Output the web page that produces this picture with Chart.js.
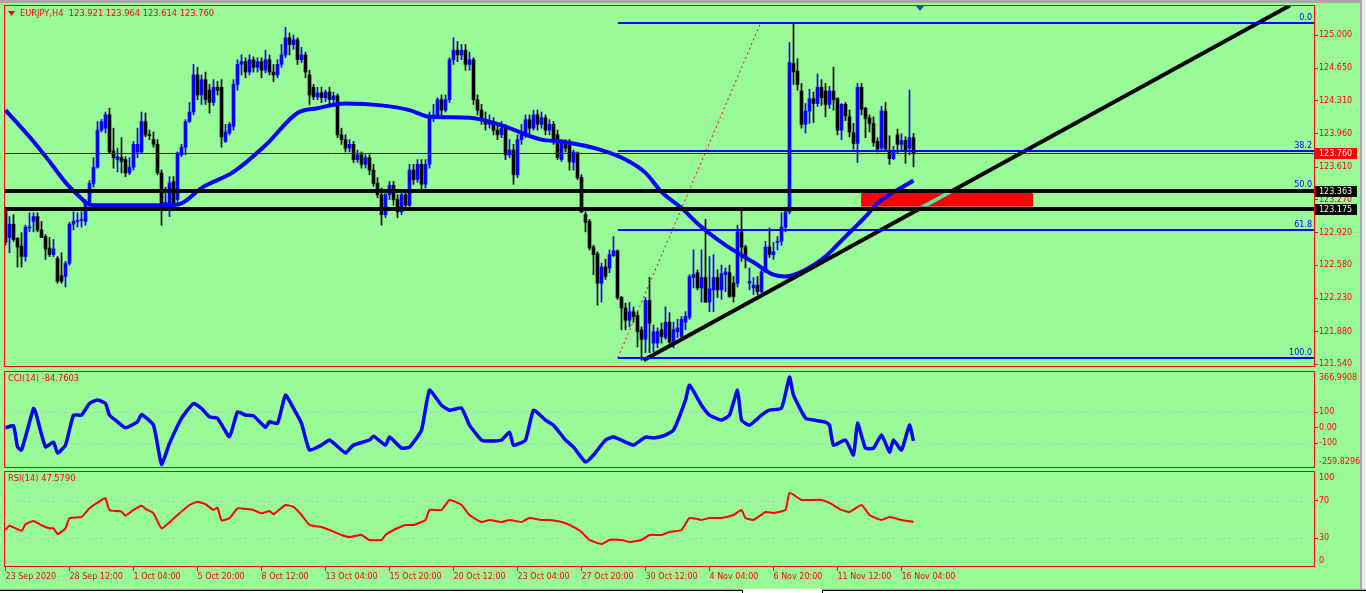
<!DOCTYPE html>
<html><head><meta charset="utf-8">
<script src="https://cdn.jsdelivr.net/npm/chart.js@4.4.0/dist/chart.umd.min.js"></script>
<style>
html,body{margin:0;padding:0;width:1366px;height:593px;overflow:hidden;background:#98fb98;}
canvas{position:absolute;left:0;}
#cA{top:0}#cB{top:369px}#cC{top:469px}
.d{position:absolute;}
</style></head><body>
<canvas id="cA" width="1366" height="369"></canvas>
<canvas id="cB" width="1366" height="100"></canvas>
<canvas id="cC" width="1366" height="124"></canvas>
<div class="d" style="left:0;top:0;width:1366px;height:3px;background:#a8a8a8"></div>
<div class="d" style="left:1360px;top:0;width:2px;height:593px;background:#a8a8a8"></div>
<div class="d" style="left:1362px;top:0;width:4px;height:593px;background:#ececec"></div>
<div class="d" style="left:0;top:589px;width:1366px;height:4px;background:#ffffff"></div>
<div class="d" style="left:0;top:589px;width:742px;height:1px;background:#a0a0a0"></div>
<div class="d" style="left:0;top:590px;width:742px;height:1px;background:#000"></div>
<div class="d" style="left:742px;top:590px;width:1px;height:3px;background:#000"></div>
<div class="d" style="left:822px;top:589px;width:544px;height:1px;background:#a0a0a0"></div>
<div class="d" style="left:822px;top:590px;width:544px;height:1px;background:#000"></div>
<div class="d" style="left:822px;top:590px;width:1px;height:3px;background:#000"></div>
<script>
// ---------------- DATA ----------------
const symbolTitle = 'EURJPY,H4';
const lastOHLC = ['123.921', '123.964', '123.614', '123.760'];

const candleOpen = [
123.14,122.87,123.01,122.86,122.78,122.67,122.97,123.04,123.09,122.95,
122.88,122.76,122.69,122.65,122.47,122.46,122.60,123.01,123.04,123.05,
123.04,123.24,123.44,123.61,124.00,124.02,124.16,123.78,123.69,123.71,
123.69,123.55,123.61,123.77,123.77,124.09,123.95,123.90,123.85,123.55,
123.21,123.21,123.46,123.27,123.74,123.82,124.09,124.19,124.58,124.37,
124.53,124.42,124.29,124.45,124.45,123.88,123.97,124.04,124.48,124.69,
124.72,124.61,124.74,124.66,124.72,124.63,124.74,124.61,124.58,124.69,
124.79,124.97,124.90,124.95,124.74,124.79,124.58,124.45,124.35,124.39,
124.34,124.40,124.32,124.36,123.95,123.90,123.81,123.85,123.69,123.74,
123.64,123.71,123.58,123.44,123.32,123.11,123.32,123.42,123.27,123.14,
123.32,123.21,123.58,123.48,123.64,123.43,123.64,124.13,124.16,124.32,
124.21,124.32,124.74,124.84,124.79,124.84,124.69,124.74,124.32,124.21,
124.11,124.06,124.09,124.00,123.95,124.02,123.74,123.79,123.53,123.90,
123.95,124.11,124.02,124.16,124.06,124.13,124.00,124.06,123.95,123.69,
123.88,123.87,123.66,123.76,123.50,123.11,123.04,122.77,122.70,122.39,
122.56,122.55,122.68,122.73,122.24,122.13,122.00,122.09,122.05,121.90,
121.80,122.21,121.76,121.76,121.90,121.82,121.98,121.76,121.88,121.83,
121.98,122.03,122.45,122.50,122.34,122.45,122.19,122.32,122.45,122.32,
122.48,122.50,122.39,122.39,122.93,122.77,122.39,122.34,122.37,122.30,
122.51,122.77,122.69,122.82,122.83,122.98,123.14,124.70,124.62,124.41,
124.06,124.20,124.33,124.28,124.45,124.41,124.27,124.41,124.33,124.00,
124.27,124.14,123.97,123.86,124.45,124.23,124.13,124.07,123.88,123.81,
124.20,123.77,123.70,123.95,123.85,123.89,123.81,123.921];
const candleHigh = [
123.18,123.09,123.11,122.87,122.92,123.00,123.13,123.13,123.13,123.04,
122.90,122.87,122.85,122.67,122.71,122.62,123.03,123.14,123.13,123.14,
123.27,123.47,123.71,124.09,124.11,124.19,124.23,124.02,123.81,123.92,
123.72,123.71,123.88,124.02,124.19,124.18,124.00,123.98,123.90,123.58,
123.40,123.51,123.51,123.77,123.85,124.11,124.29,124.69,124.66,124.58,
124.61,124.48,124.53,124.51,124.53,124.06,124.08,124.53,124.74,124.79,
124.76,124.79,124.77,124.76,124.76,124.84,124.79,124.69,124.74,124.90,
125.08,125.02,125.00,124.97,124.87,124.82,124.63,124.48,124.45,124.45,
124.42,124.45,124.40,124.38,124.02,123.95,123.90,123.88,123.79,123.77,
123.74,123.74,123.64,123.50,123.39,123.37,123.46,123.46,123.32,123.35,
123.37,123.64,123.64,123.69,123.69,123.69,124.19,124.27,124.34,124.37,
124.37,124.76,124.97,124.93,124.90,124.90,124.82,124.76,124.37,124.27,
124.19,124.16,124.13,124.06,124.09,124.06,123.90,123.85,123.95,124.06,
124.16,124.16,124.21,124.21,124.19,124.16,124.11,124.09,124.00,123.90,
123.90,123.90,123.79,123.77,123.53,123.14,123.06,122.79,122.72,122.60,
122.64,122.74,122.88,122.74,122.25,122.18,122.19,122.14,122.09,121.93,
122.24,122.45,121.95,121.92,121.97,122.14,122.08,121.98,122.01,122.04,
122.09,122.48,122.74,122.53,122.74,123.06,122.67,122.69,122.53,122.58,
122.55,122.58,122.46,123.00,123.16,122.79,122.55,122.45,122.46,122.53,
122.83,122.97,122.82,122.88,123.13,123.18,124.92,125.13,124.75,124.49,
124.28,124.43,124.40,124.59,124.53,124.49,124.46,124.66,124.34,124.28,
124.29,124.21,124.07,124.49,124.49,124.24,124.16,124.14,123.92,124.25,
124.29,123.94,123.83,124.01,123.96,123.93,124.42,123.964];
const candleLow = [
122.79,122.71,122.83,122.56,122.56,122.62,122.93,122.93,122.93,122.87,
122.64,122.67,122.67,122.39,122.39,122.35,122.58,122.95,122.98,122.98,
123.00,123.19,123.40,123.60,123.98,123.97,123.76,123.60,123.56,123.55,
123.51,123.53,123.58,123.71,123.76,123.93,123.90,123.82,123.53,123.00,
123.16,123.09,123.19,123.25,123.72,123.74,124.08,124.16,124.32,124.27,
124.27,124.18,124.26,124.37,123.82,123.87,123.95,124.00,124.42,124.58,
124.55,124.58,124.61,124.61,124.55,124.60,124.58,124.51,124.55,124.66,
124.76,124.79,124.85,124.69,124.71,124.55,124.27,124.32,124.32,124.29,
124.30,124.27,124.28,123.92,123.85,123.77,123.77,123.66,123.66,123.60,
123.60,123.53,123.41,123.29,123.00,123.08,123.27,123.21,123.08,123.11,
123.16,123.18,123.43,123.45,123.37,123.39,123.60,124.09,124.13,124.16,
124.19,124.29,124.69,124.72,124.74,124.63,124.63,124.27,124.16,124.06,
124.00,124.02,123.95,123.90,123.92,123.69,123.71,123.43,123.50,123.85,
123.92,123.95,124.00,124.00,124.02,123.95,123.95,123.85,123.69,123.67,
123.77,123.58,123.58,123.48,123.13,122.93,122.74,122.48,122.16,122.19,
122.43,122.50,122.67,122.22,121.90,121.90,121.93,121.98,121.72,121.58,
121.66,121.66,121.67,121.71,121.76,121.80,121.76,121.71,121.82,121.82,
121.90,122.01,122.34,122.32,122.19,122.19,122.09,122.09,122.24,122.22,
122.30,122.24,122.19,122.35,122.62,122.55,122.32,122.27,122.27,122.29,
122.50,122.66,122.64,122.74,122.79,122.93,123.12,124.48,124.42,124.02,
123.97,124.07,124.08,124.25,124.26,124.14,124.23,124.21,123.95,123.90,
124.10,123.93,123.80,123.66,124.16,123.92,123.98,123.83,123.77,123.79,
123.79,123.64,123.69,123.75,123.79,123.65,123.74,123.614];
const candleClose = [
122.82,123.01,122.85,122.77,122.67,122.98,122.98,123.09,122.95,122.87,
122.75,122.69,122.75,122.41,122.41,122.60,123.01,123.04,123.05,123.06,
123.24,123.44,123.61,124.00,124.09,124.16,123.77,123.71,123.72,123.67,
123.55,123.61,123.85,123.85,124.09,123.95,123.94,123.85,123.55,123.21,
123.24,123.44,123.21,123.76,123.82,124.09,124.19,124.58,124.37,124.53,
124.32,124.29,124.45,124.42,123.93,123.98,124.06,124.48,124.69,124.72,
124.61,124.74,124.66,124.72,124.63,124.74,124.61,124.58,124.69,124.79,
124.97,124.90,124.95,124.74,124.79,124.61,124.37,124.35,124.39,124.34,
124.40,124.32,124.36,123.95,123.90,123.81,123.85,123.69,123.74,123.64,
123.71,123.58,123.44,123.32,123.11,123.32,123.42,123.27,123.14,123.32,
123.21,123.58,123.48,123.64,123.43,123.64,124.13,124.16,124.32,124.21,
124.32,124.74,124.84,124.79,124.84,124.69,124.74,124.32,124.21,124.11,
124.06,124.09,124.00,123.95,124.02,123.74,123.79,123.53,123.90,123.95,
124.11,124.02,124.16,124.06,124.13,124.00,124.06,123.90,123.71,123.88,
123.81,123.67,123.77,123.50,123.14,123.03,122.76,122.69,122.39,122.56,
122.46,122.69,122.73,122.24,122.13,122.00,122.09,122.04,121.88,121.80,
122.21,121.97,121.88,121.88,121.83,121.98,121.77,121.90,121.92,122.01,
122.04,122.46,122.48,122.34,122.45,122.19,122.33,122.45,122.32,122.49,
122.51,122.25,122.25,122.93,122.77,122.67,122.41,122.37,122.30,122.51,
122.77,122.69,122.72,122.83,122.98,123.14,124.71,124.61,124.48,124.06,
124.20,124.33,124.28,124.45,124.34,124.27,124.41,124.32,124.00,124.27,
124.15,123.98,123.86,124.45,124.22,124.12,124.07,123.87,123.80,124.20,
123.80,123.70,123.77,123.85,123.89,123.79,123.92,123.760];

// moving average (read at vertices: bar index / price)
const maIdx = [0,7,11,15,17,19,20,22,40,44,49,57,65,73,78,85,94,101,106,116,124,134,139,149,155,160,164,169,174,180,187,192,195,200,205,210,215,218,227];
const maVal = [124.21,123.88,123.67,123.45,123.36,123.28,123.24,123.21,123.21,123.23,123.39,123.56,123.84,124.18,124.23,124.28,124.26,124.21,124.14,124.13,124.05,123.90,123.88,123.79,123.69,123.55,123.35,123.18,122.98,122.79,122.61,122.48,122.46,122.53,122.67,122.88,123.09,123.23,123.47];

// CCI(14)
const cciIdx = [0,2,3,4,7,7.5,10,12,13,15,17,19,21,23,25,26,28,30,33,34,37,39,41,44,47,49,51,53,56,58,60,62,65,66,68,70,72,74,76,79,81,84,85,87,91,92,95,96,99,101,104,106,109,111,114,116,119,121,124,126,127,130,132,135,137,140,142,145,147,150,152,155,157,160,162,165,167,170,171,174,176,179,181,183,184,186,189,191,194,196,197,200,202,205,206,207,210,212,213,215,217,219,221,222,224,226,227];
const cciVal = [0,13,-123,-144,125,103,-123,-92,-163,-112,82,82,157,179,157,82,39,0,39,86,17,-236,-101,61,157,125,71,61,-58,103,82,77,3,39,28,211,125,28,-144,-112,-79,-144,-163,-112,-79,-54,-112,-60,-131,-125,-15,243,146,114,127,17,-79,-86,-79,-28,-112,-79,114,50,17,-79,-125,-221,-176,-79,-60,-92,-112,-60,-66,-47,-15,179,275,146,82,50,82,243,50,17,82,114,127,327,211,63,50,37,17,-112,-79,-176,30,-131,-131,-47,-157,-79,-144,17,-84.7603];
const cciLevels = [100, -100];
const cciTicks = [100, 0, -100];
const cciRange = [-259.8296, 366.9908];

// RSI(14)
const rsiIdx = [0,1,4,5,7,9,11,12,13,15,16,19,21,24,25,26,29,30,32,34,35,37,39,41,43,46,48,50,52,53,54,56,58,60,62,64,66,67,70,72,74,76,79,81,84,86,89,91,94,95,97,100,102,105,106,109,111,114,116,119,121,124,126,129,131,134,136,139,141,144,146,149,151,154,156,159,161,164,166,169,171,174,176,179,182,184,185,187,190,192,195,196,199,201,204,206,209,211,214,216,219,221,224,227];
const rsiVal = [39,43.5,38,45,48.6,44,40.7,40.7,34.6,40.7,51.5,52.9,62.2,71,72.9,60.4,58.6,54.3,60.4,65,61.5,56.8,40.7,47.2,55,65.7,69.3,66.5,60.4,62.8,49.3,51.5,62.2,61.5,60.4,56.8,59.3,55.8,65.7,63.6,55,44.3,42.1,38.9,33.6,31.4,33.6,28.2,28.2,33.6,38.9,44.3,44.3,49.7,60.4,60.4,71.1,65.7,55,47.5,49.7,47.5,49.7,47.5,51.8,49.7,49.7,47.5,44.3,36.8,28.2,23.9,28.2,28.2,26.1,28.2,33.6,33.6,36.8,38.9,51.8,49.7,51.8,51.8,55,60.4,51.8,49.7,58.2,57.2,60.4,78.6,71.1,71.1,71.1,67.9,60.4,58.2,65.7,55,49.7,52.9,49.7,47.579];
const rsiLevels = [70, 30];

// axes
const priceTicks = [125.000,124.650,124.310,123.960,123.610,123.270,122.920,122.580,122.230,121.880,121.540];
const priceRange = [121.5086, 125.3155];
const xTickIdx = [0,16,32,48,64,80,96,112,128,144,160,176,192,208,224];
const xTickLabels = ['23 Sep 2020','28 Sep 12:00','1 Oct 04:00','5 Oct 20:00','8 Oct 12:00','13 Oct 04:00','15 Oct 20:00','20 Oct 12:00','23 Oct 04:00','27 Oct 20:00','30 Oct 12:00','4 Nov 04:00','6 Nov 20:00','11 Nov 12:00','16 Nov 04:00'];
const xRange = [-0.375, 327.125];

// objects on the price chart
const supportLevels = [123.363, 123.175];
const bidPrice = 123.760;
const fibAnchorIdx = [153.1, 188.8];
const fibAnchorPrice = [121.606, 125.129];
const fibRatios = [0.0, 38.2, 50.0, 61.8, 100.0];
const zoneIdx = [213.9, 256.9];
const zonePrice = [123.195, 123.342];
const trendIdx = [159.5, 321.1];
const trendPrice = [121.58, 125.31];
const shiftMarkerIdx = 228.6;

// ---------------- STYLE ----------------
const FONT = 'DejaVu Sans';
const FS = 8;
const FS_HEAD = 8.3;
const RED = '#ff0000';
const BLUE = '#0000ff';
const BULL = '#0000ff', BEAR = '#000000';

const idx = candleOpen.map((_, i) => i);
const colors = idx.map(i => candleClose[i] >= candleOpen[i] ? BULL : BEAR);

function xScale(display) {
  return { type: 'linear', min: xRange[0], max: xRange[1], offset: false, display: display, bounds: 'data' };
}
function rightAxis(min, max, ticks, fmt) {
  return {
    position: 'right', min: min, max: max, bounds: 'data',
    afterBuildTicks: s => { s.ticks = ticks.map(v => ({ value: v })); },
    afterFit: s => { s.width = 52; s.paddingTop = 0; s.paddingBottom = 0; },
    ticks: { callback: fmt, color: RED, font: { family: FONT, size: FS }, padding: 1, autoSkip: false },
    grid: { display: true, drawOnChartArea: false, drawTicks: true, tickLength: 4, color: RED },
    border: { display: false }
  };
}
const frame = {
  id: 'frame',
  afterDraw(c) {
    const a = c.chartArea, g = c.ctx;
    g.save(); g.strokeStyle = RED; g.lineWidth = 1;
    g.strokeRect(Math.round(a.left) + 0.5, Math.round(a.top) + 0.5, Math.round(a.right - a.left), Math.round(a.bottom - a.top) - 1);
    g.restore();
  }
};
function text(g, s, x, y, color, align, base, size) {
  g.fillStyle = color; g.font = (size || FS) + 'px "' + FONT + '"';
  g.textAlign = align || 'left'; g.textBaseline = base || 'middle';
  g.fillText(s, x, y);
}
function levelsPlugin(levels) {
  return {
    id: 'lv',
    beforeDatasetsDraw(c) {
      const a = c.chartArea, g = c.ctx, y = c.scales.y;
      g.save(); g.strokeStyle = '#c4c4cc'; g.lineWidth = 1; g.setLineDash([3, 3]);
      levels.forEach(v => { const p = Math.round(y.getPixelForValue(v)) + 0.5; g.beginPath(); g.moveTo(a.left, p); g.lineTo(a.right, p); g.stroke(); });
      g.restore();
    }
  };
}
function edgeLabels(items, title) {
  return {
    id: 'edge',
    afterDraw(c) {
      const a = c.chartArea, g = c.ctx, y = c.scales.y;
      g.save();
      items.forEach(it => {
        let p = y.getPixelForValue(it[0]);
        p = Math.min(Math.max(p, a.top + 7), a.bottom - 6);
        text(g, it[1], a.right + 5, p, RED);
      });
      text(g, title, 8, a.top + 8, RED, 'left', 'middle', FS_HEAD);
      g.restore();
    }
  };
}

// ---------------- MAIN CHART ----------------
const fibPrices = fibRatios.map(r => fibAnchorPrice[1] - r / 100 * (fibAnchorPrice[1] - fibAnchorPrice[0]));
const mainObjects = {
  id: 'objs',
  beforeDatasetsDraw(c) {
    const g = c.ctx, x = c.scales.x, y = c.scales.y;
    g.save(); g.fillStyle = RED;
    const x0 = x.getPixelForValue(zoneIdx[0]), x1 = x.getPixelForValue(zoneIdx[1]);
    const y0 = y.getPixelForValue(zonePrice[1]), y1 = y.getPixelForValue(zonePrice[0]);
    g.fillRect(x0, y0, x1 - x0, y1 - y0);
    g.restore();
  },
  afterDatasetsDraw(c) {
    const a = c.chartArea, g = c.ctx, x = c.scales.x, y = c.scales.y;
    g.save();
    g.beginPath(); g.rect(a.left, a.top, a.right - a.left, a.bottom - a.top); g.clip();
    const zx0 = x.getPixelForValue(zoneIdx[0]), zx1 = x.getPixelForValue(zoneIdx[1]);
    const zy0 = y.getPixelForValue(zonePrice[1]), zy1 = y.getPixelForValue(zonePrice[0]);
    g.save(); g.beginPath(); g.rect(zx0, zy0, zx1 - zx0, zy1 - zy0); g.clip();
    g.strokeStyle = '#66dd99'; g.lineWidth = 4; g.beginPath();
    g.moveTo(x.getPixelForValue(trendIdx[0]), y.getPixelForValue(trendPrice[0]));
    g.lineTo(x.getPixelForValue(trendIdx[1]), y.getPixelForValue(trendPrice[1])); g.stroke();
    g.restore();
    g.strokeStyle = '#202090'; g.lineWidth = 1;
    let p = Math.round(y.getPixelForValue(bidPrice)) + 0.5;
    g.beginPath(); g.moveTo(a.left, p); g.lineTo(a.right, p); g.stroke();
    const fx = x.getPixelForValue(fibAnchorIdx[0]);
    g.strokeStyle = BLUE; g.lineWidth = 2;
    fibPrices.forEach(v => { const q = Math.round(y.getPixelForValue(v)); g.beginPath(); g.moveTo(fx, q); g.lineTo(a.right, q); g.stroke(); });
    g.strokeStyle = '#000'; g.lineWidth = 4;
    supportLevels.forEach(v => { const q = Math.round(y.getPixelForValue(v)); g.beginPath(); g.moveTo(a.left, q); g.lineTo(a.right, q); g.stroke(); });
    g.restore();
  },
  afterDraw(c) {
    const a = c.chartArea, g = c.ctx, x = c.scales.x, y = c.scales.y;
    g.save();
    fibRatios.forEach((r, i) => {
      const q = Math.round(y.getPixelForValue(fibPrices[i]));
      text(g, r.toFixed(1), a.right - 2, q - 1, BLUE, 'right', 'bottom');
    });
    const box = (v, bg, fg) => {
      const q = Math.round(y.getPixelForValue(v));
      g.fillStyle = bg; g.fillRect(a.right + 1, q - 5, 42, 11);
      text(g, v.toFixed(3), a.right + 5, q + 0.5, fg);
    };
    supportLevels.forEach(v => box(v, '#000000', '#d8ffd8'));
    box(bidPrice, RED, '#ffffff');
    g.fillStyle = RED; g.beginPath(); g.moveTo(8, 11); g.lineTo(15, 11); g.lineTo(11.5, 16); g.closePath(); g.fill();
    text(g, symbolTitle + '  ' + lastOHLC.join(' '), 20, 13.5, RED, 'left', 'middle', FS_HEAD);
    const mx = Math.round(x.getPixelForValue(shiftMarkerIdx));
    g.fillStyle = '#2050c0'; g.beginPath(); g.moveTo(mx - 5, a.top); g.lineTo(mx + 5, a.top); g.lineTo(mx, a.top + 6); g.closePath(); g.fill();
    g.restore();
  }
};

new Chart(document.getElementById('cA'), {
  type: 'bar',
  data: {
    datasets: [
      { type: 'line', label: 'trend', data: trendIdx.map((v, i) => ({ x: v, y: trendPrice[i] })), borderColor: '#000', borderWidth: 4, pointRadius: 0, order: 1 },
      { type: 'line', label: 'fib', data: fibAnchorIdx.map((v, i) => ({ x: v, y: fibAnchorPrice[i] })), borderColor: RED, borderWidth: 1, borderDash: [2, 3], pointRadius: 0, order: 2 },
      { type: 'line', label: 'ma', data: maIdx.map((v, i) => ({ x: v, y: maVal[i] })), borderColor: BLUE, borderWidth: 4, pointRadius: 0, cubicInterpolationMode: 'monotone', order: 3 },
      { label: 'body', data: idx.map(i => ({ x: i, y: [candleOpen[i], candleClose[i]] })), backgroundColor: colors, barThickness: 3, grouped: false, minBarLength: 1, order: 4 },
      { label: 'wick', data: idx.map(i => ({ x: i, y: [candleLow[i], candleHigh[i]] })), backgroundColor: colors, barThickness: 1, grouped: false, order: 5 }
    ]
  },
  options: {
    responsive: false, animation: false, events: [],
    layout: { padding: { left: 4, top: 5, right: 0, bottom: 2 } },
    plugins: { legend: { display: false }, tooltip: { enabled: false } },
    scales: {
      x: xScale(false),
      y: rightAxis(priceRange[0], priceRange[1], priceTicks, v => v.toFixed(3))
    }
  },
  plugins: [mainObjects, frame]
});

// ---------------- CCI ----------------
new Chart(document.getElementById('cB'), {
  type: 'line',
  data: { datasets: [{ data: cciIdx.map((v, i) => ({ x: v, y: cciVal[i] })), borderColor: BLUE, borderWidth: 3.5, pointRadius: 0, tension: 0.15 }] },
  options: {
    responsive: false, animation: false, events: [],
    layout: { padding: { left: 4, top: 2, right: 0, bottom: 1 } },
    plugins: { legend: { display: false }, tooltip: { enabled: false } },
    scales: {
      x: xScale(false),
      y: rightAxis(cciRange[0], cciRange[1], cciTicks, v => v === 0 ? '0.00' : String(v))
    }
  },
  plugins: [levelsPlugin(cciLevels), edgeLabels([[cciRange[1], cciRange[1].toFixed(4)], [cciRange[0], cciRange[0].toFixed(4)]], 'CCI(14) ' + cciVal[cciVal.length - 1].toFixed(4)), frame]
});

// ---------------- RSI ----------------
const xAxisC = Object.assign(xScale(true), {
  position: 'bottom',
  afterBuildTicks: s => { s.ticks = xTickIdx.map(v => ({ value: v })); },
  afterFit: s => { s.height = 26; s.paddingLeft = 0; s.paddingRight = 0; },
  ticks: { autoSkip: false, maxRotation: 0, minRotation: 0, align: 'start', callback: (v, i) => xTickLabels[i], color: RED, font: { family: FONT, size: FS }, padding: 1 },
  grid: { display: true, drawOnChartArea: false, drawTicks: true, tickLength: 4, color: RED },
  border: { display: false }
});
new Chart(document.getElementById('cC'), {
  type: 'line',
  data: { datasets: [{ data: rsiIdx.map((v, i) => ({ x: v, y: rsiVal[i] })), borderColor: RED, borderWidth: 2, pointRadius: 0, tension: 0.15 }] },
  options: {
    responsive: false, animation: false, events: [],
    layout: { padding: { left: 4, top: 2, right: 0, bottom: 0 } },
    plugins: { legend: { display: false }, tooltip: { enabled: false } },
    scales: {
      x: xAxisC,
      y: rightAxis(-0.78, 102.17, rsiLevels, v => String(v))
    }
  },
  plugins: [levelsPlugin(rsiLevels), edgeLabels([[100, '100'], [0, '0']], 'RSI(14) ' + rsiVal[rsiVal.length - 1].toFixed(4)), frame]
});
</script>
</body></html>
